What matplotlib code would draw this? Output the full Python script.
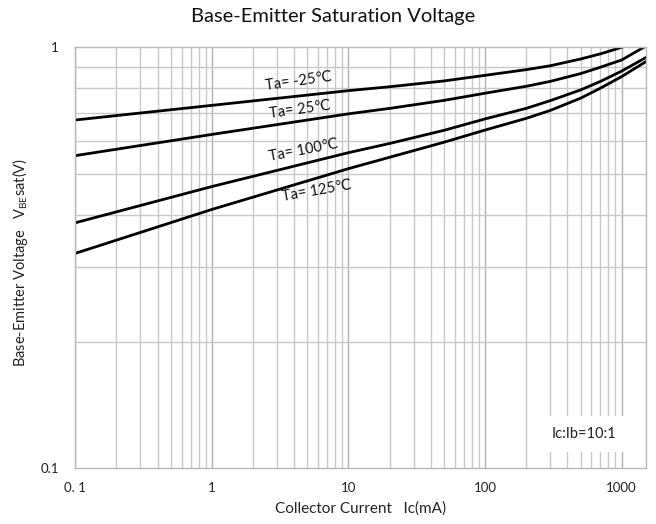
import matplotlib
matplotlib.use("Agg")
import matplotlib.pyplot as plt
from matplotlib.ticker import FixedLocator, NullFormatter

# Collector current (mA) and V_BE(sat)
ic_m25 = [0.1, 1, 10, 20, 50, 100, 200, 300, 500, 700, 1000]
vbe_m25 = [0.672, 0.728, 0.789, 0.806, 0.832, 0.858, 0.885, 0.904, 0.938, 0.965, 1.0]

ic_25 = [0.1, 1, 10, 20, 50, 100, 200, 300, 500, 700, 1000, 1450]
vbe_25 = [0.553, 0.621, 0.695, 0.716, 0.748, 0.778, 0.808, 0.830, 0.866, 0.897, 0.933, 1.0]

ic_100 = [0.1, 1, 10, 20, 50, 100, 200, 300, 500, 700, 1000, 1500]
vbe_100 = [0.383, 0.467, 0.562, 0.591, 0.635, 0.676, 0.716, 0.747, 0.792, 0.830, 0.878, 0.945]

ic_125 = [0.1, 1, 10, 20, 50, 100, 200, 300, 500, 700, 1000, 1500]
vbe_125 = [0.324, 0.412, 0.515, 0.548, 0.595, 0.636, 0.678, 0.708, 0.757, 0.800, 0.852, 0.924]

curve_labels = ["Ta= -25\u2103", "Ta= 25\u2103", "Ta= 100\u2103", "Ta= 125\u2103"]

x_ticks = [0.1, 1, 10, 100, 1000]
x_tick_labels = ["0. 1", "1", "10", "100", "1000"]
y_ticks = [0.1, 1]
y_tick_labels = ["0.1", "1"]

plt.rcParams.update({"font.family": ["Lato", "DejaVu Sans"], "font.size": 10})

fig = plt.figure(figsize=(6.56, 5.24), dpi=100)
ax = fig.add_axes([0.1148, 0.1063, 0.8695, 0.8034])

ax.set_xscale("log")
ax.set_yscale("log")
ax.set_xlim(0.1, 1500)
ax.set_ylim(0.1, 1)

# grid: minor lines at 2..9 of every decade
ax.xaxis.set_major_locator(FixedLocator(x_ticks))
ax.xaxis.set_minor_locator(FixedLocator([m * 10.0 ** e for e in range(-1, 3) for m in range(2, 10)]))
ax.yaxis.set_major_locator(FixedLocator(y_ticks))
ax.yaxis.set_minor_locator(FixedLocator([m / 10 for m in range(2, 10)]))
ax.xaxis.set_minor_formatter(NullFormatter())
ax.yaxis.set_minor_formatter(NullFormatter())
ax.set_xticklabels(x_tick_labels)
ax.set_yticklabels(y_tick_labels)
ax.grid(True, which="major", axis="x", color="#b0b0b0", linewidth=1.0)
ax.grid(True, which="minor", color="#c8c8c8", linewidth=1.0)
ax.tick_params(which="both", length=0, labelsize=9.5, colors="#222222")
ax.tick_params(axis="x", pad=10)
ax.tick_params(axis="y", pad=12)
ax.set_axisbelow(True)
for sp in ax.spines.values():
    sp.set_color("#b8b8b8")
    sp.set_linewidth(1.0)

for xs, ys in [(ic_m25, vbe_m25), (ic_25, vbe_25), (ic_100, vbe_100), (ic_125, vbe_125)]:
    ax.plot(xs, ys, color="black", linewidth=2.0, solid_joinstyle="round")

label_pos = [(0.392, 0.920, 8), (0.394, 0.853, 8), (0.401, 0.755, 11), (0.423, 0.660, 10)]
for text, (px, py, rot) in zip(curve_labels, label_pos):
    ax.text(px, py, text, transform=ax.transAxes, ha="center", va="center",
            rotation=rot, fontsize=10.5, color="#111111")

ax.text(0.891, 0.081, "Ic:Ib=10:1", transform=ax.transAxes, ha="center", va="center",
        fontsize=10.5, color="#222222",
        bbox=dict(facecolor="white", edgecolor="none", pad=8))

fig.text(0.508, 0.968, "Base-Emitter Saturation Voltage", ha="center", va="center",
         fontsize=14.5, color="#111111")
fig.text(0.549, 0.030, "Collector Current   Ic(mA)", ha="center", va="center",
         fontsize=11, color="#222222")
fig.text(0.031, 0.500, r"Base-Emitter Voltage   V$\mathregular{_{BE}}$sat(V)", ha="center",
         va="center", rotation=90, fontsize=10.5, color="#222222")

fig.savefig("out.png", dpi=100, facecolor="white")
